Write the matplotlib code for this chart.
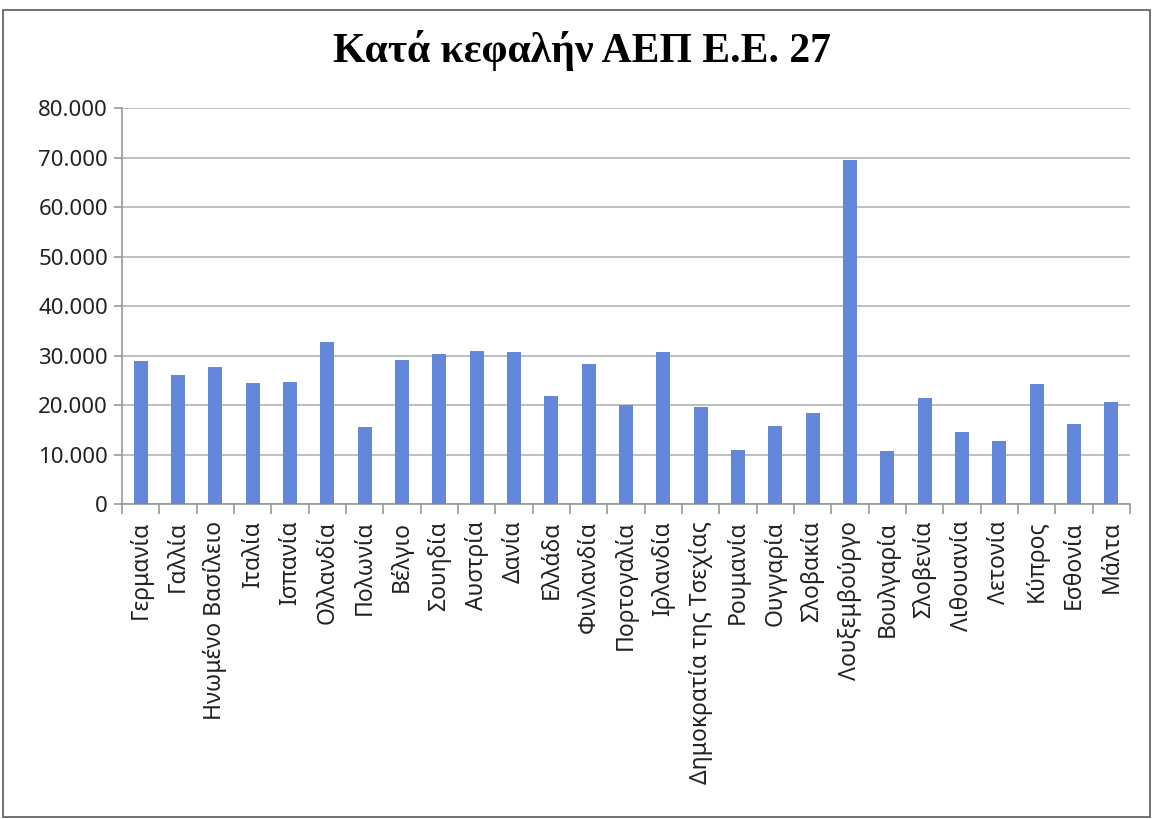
import matplotlib
matplotlib.use('Agg')
import matplotlib.pyplot as plt
from matplotlib.ticker import FuncFormatter, MultipleLocator
from matplotlib.patches import Rectangle

countries = ['Γερμανία', 'Γαλλία', 'Ηνωμένο Βασίλειο', 'Ιταλία', 'Ισπανία', 'Ολλανδία',
             'Πολωνία', 'Βέλγιο', 'Σουηδία', 'Αυστρία', 'Δανία', 'Ελλάδα', 'Φινλανδία',
             'Πορτογαλία', 'Ιρλανδία', 'Δημοκρατία της Τσεχίας', 'Ρουμανία', 'Ουγγαρία',
             'Σλοβακία', 'Λουξεμβούργο', 'Βουλγαρία', 'Σλοβενία', 'Λιθουανία', 'Λετονία',
             'Κύπρος', 'Εσθονία', 'Μάλτα']
gdp_per_capita = [28900, 26100, 27700, 24400, 24700, 32800, 15500, 29100, 30300, 31000,
                  30700, 21800, 28300, 20000, 30800, 19500, 11000, 15800, 18300, 69500,
                  10800, 21500, 14500, 12800, 24300, 16100, 20600]

title = 'Κατά κεφαλήν ΑΕΠ Ε.Ε. 27'

plt.rcParams['font.family'] = ['Noto Sans', 'DejaVu Sans']

fig = plt.figure(figsize=(11.53, 8.19), dpi=100)
ax = fig.add_axes([0.1058, 0.3846, 0.8742, 0.4835])

x = range(len(countries))
ax.bar(x, gdp_per_capita, width=0.38, color='#6487DA', zorder=3)

ax.set_xlim(-0.5, len(countries) - 0.5)
ax.set_ylim(0, 80000)
ax.yaxis.set_major_locator(MultipleLocator(10000))
ax.yaxis.set_major_formatter(FuncFormatter(lambda v, p: f'{int(v):,}'.replace(',', '.')))
ax.grid(axis='y', color='#b4b4b4', linewidth=1.2, zorder=0)

ax.set_xticks(list(x))
ax.set_xticklabels(countries, rotation=90, fontsize=16.5, color='#222222')
ax.set_xticks([i + 0.5 for i in range(-1, len(countries))], minor=True)
ax.tick_params(axis='x', which='major', length=0, pad=12)
ax.tick_params(axis='x', which='minor', length=7, color='#999999', width=1.2)
ax.tick_params(axis='y', length=6, color='#999999', width=1.2, labelsize=16,
               labelcolor='#222222', pad=4)

for s in ['top', 'right']:
    ax.spines[s].set_visible(False)
for s in ['left', 'bottom']:
    ax.spines[s].set_color('#999999')
    ax.spines[s].set_linewidth(1.2)

fig.text(0.505, 0.938, title, ha='center', va='center', fontsize=30, fontweight='bold',
         family='Liberation Serif')

fig.patches.append(Rectangle((0.003, 0.003), 0.994, 0.985, transform=fig.transFigure,
                             fill=False, edgecolor='#666666', linewidth=1.3))

fig.savefig('out.png', dpi=100)
